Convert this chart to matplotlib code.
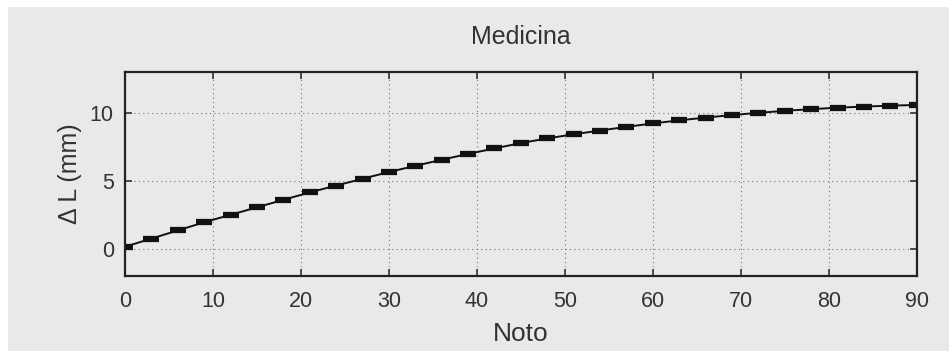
import matplotlib
matplotlib.use("Agg")
import matplotlib.pyplot as plt
from matplotlib.patches import Rectangle

# data
noto = list(range(0, 91, 3))
delta_l = [0.15, 0.75, 1.35, 1.95, 2.5, 3.05, 3.6, 4.15, 4.65, 5.15, 5.65,
           6.1, 6.55, 6.98, 7.38, 7.78, 8.12, 8.42, 8.7, 8.97, 9.22,
           9.45, 9.65, 9.84, 10.0, 10.15, 10.27, 10.38, 10.46, 10.53, 10.58]
xticks = list(range(0, 91, 10))
yticks = [0, 5, 10]

plt.rcParams.update({
    "font.family": ["Liberation Sans", "DejaVu Sans"],
    "xtick.direction": "in",
    "ytick.direction": "in",
    "xtick.top": True,
    "ytick.right": True,
})

paper = "#e9e9e7"
fig = plt.figure(figsize=(9.49, 3.51), dpi=100, facecolor="white")
fig.patches.append(Rectangle((0.008, 0), 0.992, 0.98, transform=fig.transFigure,
                             facecolor=paper, edgecolor="none", zorder=-1))

ax = fig.add_axes([0.1317, 0.2137, 0.8343, 0.581])
ax.set_facecolor(paper)

ax.plot(noto, delta_l, color="#111111", lw=1.4, marker="_", ms=11.5, mew=4.5)

ax.set_xlim(0, 90)
ax.set_ylim(-2, 13)
ax.set_xticks(xticks)
ax.set_yticks(yticks)
ax.grid(True, color="#777777", linestyle=(0, (1, 3)), linewidth=0.8)
ax.tick_params(labelsize=15.5, length=5, width=1.2, colors="#333333")
ax.tick_params(axis="x", pad=11)
ax.tick_params(axis="y", pad=8)
for s in ax.spines.values():
    s.set_linewidth(1.6)
    s.set_color("#222222")

ax.set_title("Medicina", fontsize=18, color="#333333", pad=20)
ax.set_xlabel("Noto", fontsize=19, color="#333333", labelpad=7)
ax.set_ylabel("\u0394 L (mm)", fontsize=18, color="#333333", labelpad=6)

fig.savefig("out.png", dpi=100, facecolor=fig.get_facecolor())
